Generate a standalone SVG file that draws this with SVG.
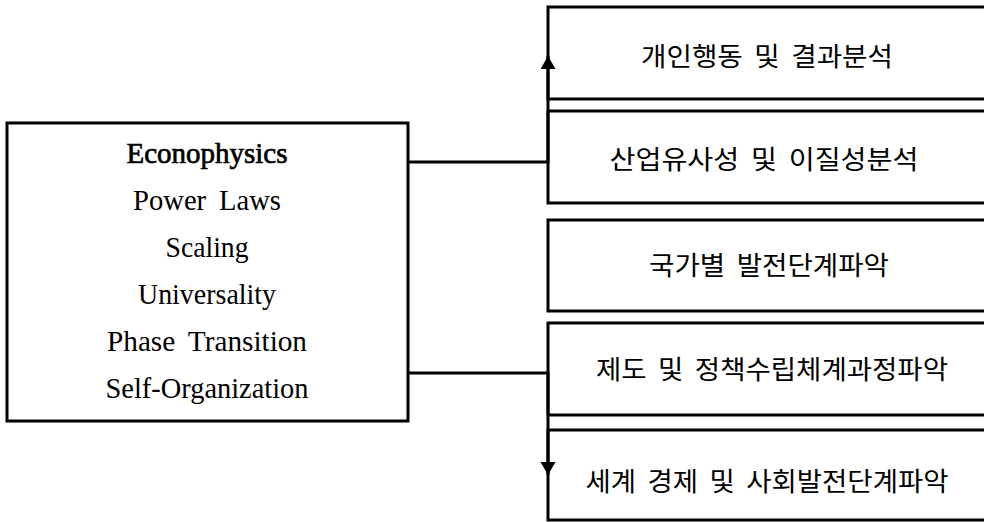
<svg xmlns="http://www.w3.org/2000/svg" width="984" height="522" viewBox="0 0 984 522">
<style>
.box{fill:#fff;stroke:#000;stroke-width:3}
.conn{fill:none;stroke:#000;stroke-width:3}
.en{font-family:"Liberation Serif","Times New Roman",serif;font-size:30px;word-spacing:6px;fill:#000;text-anchor:middle}
.ko{font-family:"Noto Sans CJK KR","Noto Sans",sans-serif;font-size:26px;word-spacing:5px;fill:#000;text-anchor:middle}
</style>
<defs>
<marker id="arr" markerUnits="userSpaceOnUse" markerWidth="14" markerHeight="16" refX="13" refY="7.5" orient="auto">
<path d="M0,0 L13,7.5 L0,15 z" fill="#000"/>
</marker>
</defs>
<rect width="984" height="522" fill="#fff"/>
<g id="econophysics">
<rect class="box" x="7" y="123" width="401" height="298"/>
<text class="en" x="207" y="163" stroke="#000" stroke-width="0.7" textLength="161" lengthAdjust="spacingAndGlyphs">Econophysics</text>
<text class="en" x="207" y="210" textLength="148" lengthAdjust="spacingAndGlyphs">Power Laws</text>
<text class="en" x="207" y="257" textLength="83" lengthAdjust="spacingAndGlyphs">Scaling</text>
<text class="en" x="207" y="304" textLength="138" lengthAdjust="spacingAndGlyphs">Universality</text>
<text class="en" x="207" y="351" textLength="200" lengthAdjust="spacingAndGlyphs">Phase Transition</text>
<text class="en" x="207" y="398" textLength="203" lengthAdjust="spacingAndGlyphs">Self-Organization</text>
</g>
<g id="n1">
<rect class="box" x="548" y="7" width="450" height="92"/>
<text class="ko" x="767" y="66" textLength="252" lengthAdjust="spacingAndGlyphs">개인행동 및 결과분석</text>
</g>
<g id="n2">
<rect class="box" x="548" y="111" width="450" height="92"/>
<text class="ko" x="764" y="169" textLength="309" lengthAdjust="spacingAndGlyphs">산업유사성 및 이질성분석</text>
</g>
<g id="n3">
<rect class="box" x="548" y="220" width="450" height="91"/>
<text class="ko" x="769" y="275" textLength="240" lengthAdjust="spacingAndGlyphs">국가별 발전단계파악</text>
</g>
<g id="n4">
<rect class="box" x="548" y="323" width="450" height="92"/>
<text class="ko" x="772" y="379" textLength="352" lengthAdjust="spacingAndGlyphs">제도 및 정책수립체계과정파악</text>
</g>
<g id="n5">
<rect class="box" x="548" y="430" width="450" height="90"/>
<text class="ko" x="767" y="491" textLength="363" lengthAdjust="spacingAndGlyphs">세계 경제 및 사회발전단계파악</text>
</g>
<g id="connectors">
<path class="conn" d="M408,162 H548 V56" marker-end="url(#arr)"/>
<path class="conn" d="M408,373 H548 V475" marker-end="url(#arr)"/>
</g>
</svg>
